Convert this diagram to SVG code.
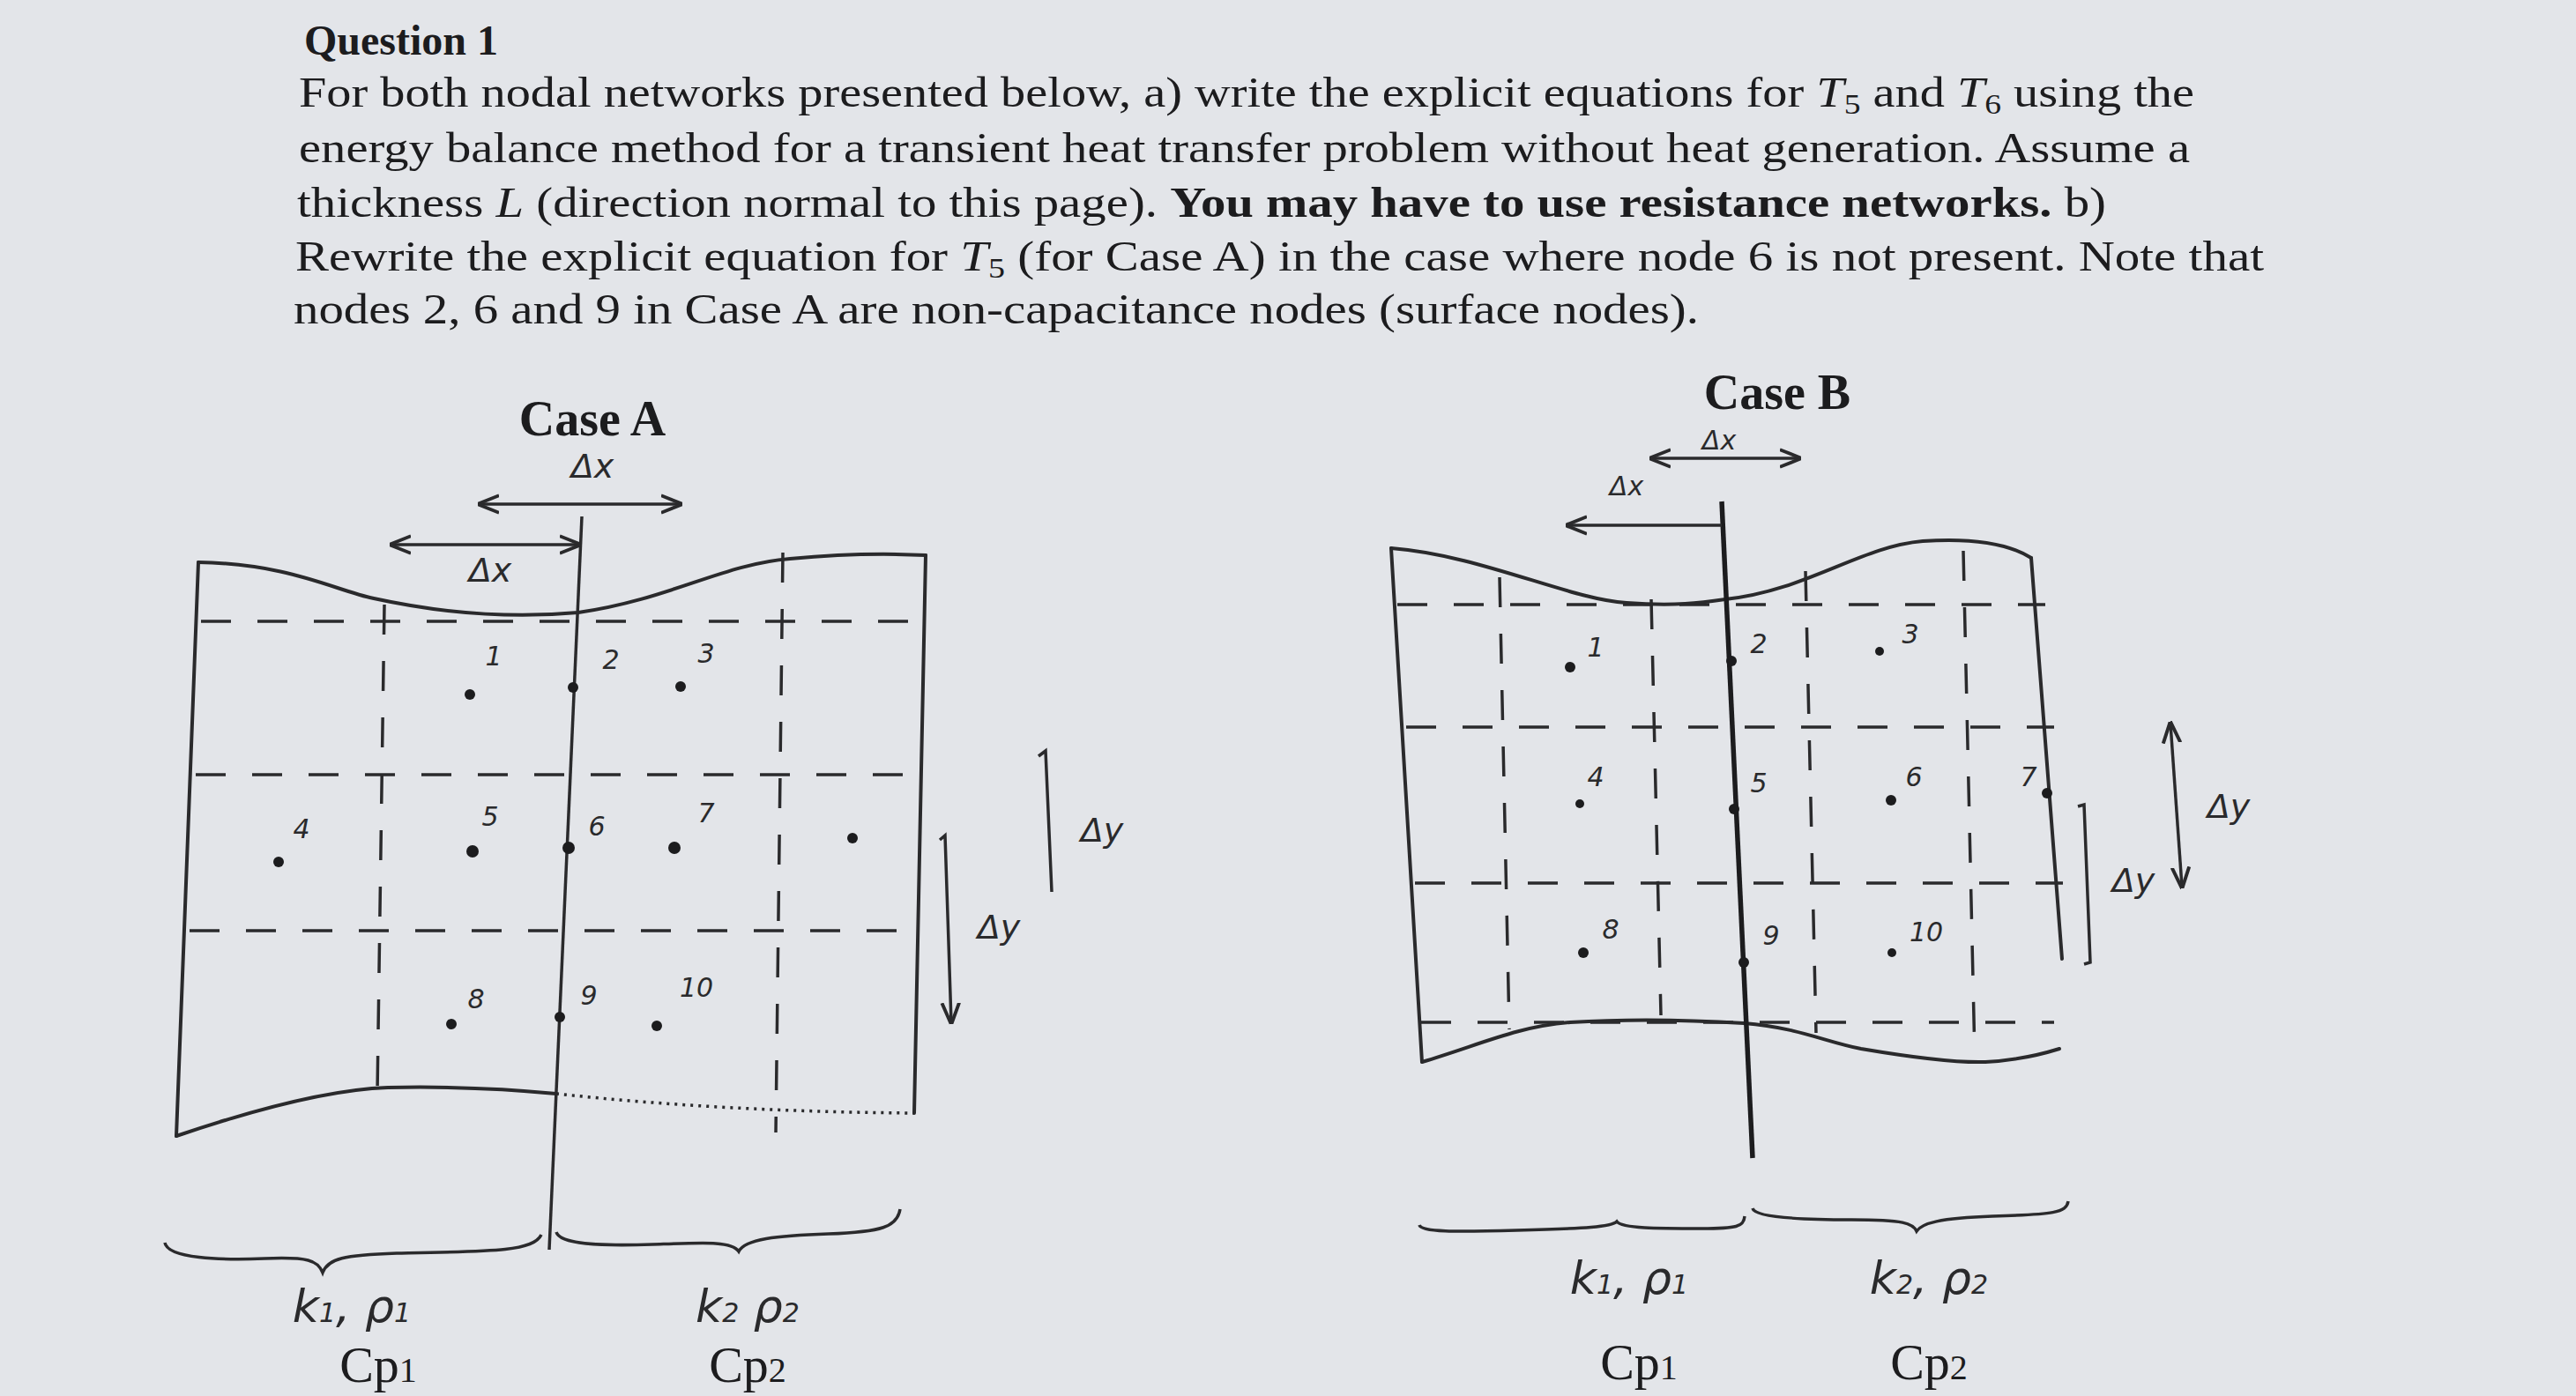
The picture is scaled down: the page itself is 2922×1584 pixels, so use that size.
<svg xmlns="http://www.w3.org/2000/svg" width="2922" height="1584" viewBox="0 0 2922 1584">
<style>
.q{font-family:"Liberation Serif",serif;font-size:48px;fill:#1c1c1e}
.h{font-family:"Liberation Serif",serif;font-size:56px;font-weight:bold;fill:#1c1c1e;text-anchor:middle}
.hw{font-family:"DejaVu Sans",sans-serif;font-style:italic;fill:#2a2a2c;text-anchor:middle}
.n{font-size:30px}
.d{font-size:38px}
.p{font-size:52px}
.cp{font-family:"Liberation Serif",serif;font-size:58px;fill:#1c1c1e;text-anchor:middle}
.s{fill:none;stroke:#2a2a2c;stroke-width:4;stroke-linecap:round}
.t{fill:none;stroke:#2a2a2c;stroke-width:3.5}
.ds{fill:none;stroke:#2a2a2c;stroke-width:3.5;stroke-dasharray:34 30}
.dot{fill:#1c1c1e}
</style>
<defs>
<marker id="ar" viewBox="0 0 10 10" refX="9" refY="5" markerWidth="7" markerHeight="7" orient="auto-start-reverse"><path d="M0,1 L10,5 L0,9" fill="none" stroke="#2a2a2c" stroke-width="1.6"/></marker>
</defs>
<rect width="2922" height="1584" fill="#e3e5e9"/>
<g id="question">
<text class="q" x="345" y="62" font-weight="bold" font-size="50">Question 1</text>
<text class="q" x="339" y="121" textLength="2150" lengthAdjust="spacingAndGlyphs">For both nodal networks presented below, a) write the explicit equations for <tspan font-style="italic">T</tspan><tspan font-size="32" dy="8">5</tspan><tspan dy="-8"> and </tspan><tspan font-style="italic">T</tspan><tspan font-size="32" dy="8">6</tspan><tspan dy="-8"> using the</tspan></text>
<text class="q" x="339" y="184" textLength="2145" lengthAdjust="spacingAndGlyphs">energy balance method for a transient heat transfer problem without heat generation. Assume a</text>
<text class="q" x="337" y="246" textLength="2052" lengthAdjust="spacingAndGlyphs">thickness <tspan font-style="italic">L</tspan> (direction normal to this page). <tspan font-weight="bold">You may have to use resistance networks.</tspan> b)</text>
<text class="q" x="335" y="307" textLength="2233" lengthAdjust="spacingAndGlyphs">Rewrite the explicit equation for <tspan font-style="italic">T</tspan><tspan font-size="32" dy="8">5</tspan><tspan dy="-8"> (for Case A) in the case where node 6 is not present. Note that</tspan></text>
<text class="q" x="333" y="367" textLength="1594" lengthAdjust="spacingAndGlyphs">nodes 2, 6 and 9 in Case A are non-capacitance nodes (surface nodes).</text>
</g>
<g id="caseA">
<text class="h" x="672" y="494">Case A</text>
<path class="s" d="M225,638 C330,640 380,670 424,679 C520,700 600,700 656,695 C760,680 820,640 896,634 C960,628 1010,628 1050,630"/>
<path class="s" d="M225,638 L200,1289"/>
<path class="s" d="M1050,630 L1037,1263"/>
<path class="s" d="M200,1289 C300,1255 380,1236 440,1234 C530,1232 600,1238 631,1241"/>
<path class="t" stroke-dasharray="3 6" d="M631,1241 C760,1255 900,1262 1037,1263"/>
<path class="t" d="M660,586 L623,1418"/>
<path class="ds" d="M228,705 L1050,705"/>
<path class="ds" d="M222,879 L1045,879"/>
<path class="ds" d="M215,1056 L1040,1056"/>
<path class="ds" d="M436,686 L428,1241"/>
<path class="ds" d="M888,627 L880,1285"/>
<path class="t" d="M544,572 L772,572" marker-start="url(#ar)" marker-end="url(#ar)"/>
<path class="t" d="M444,618 L657,618" marker-start="url(#ar)" marker-end="url(#ar)"/>
<text class="hw d" x="672" y="542">Δx</text>
<text class="hw d" x="556" y="660">Δx</text>
<path class="t" d="M1178,858 L1186,852 L1193,1012"/>
<text class="hw d" x="1250" y="955">Δy</text>
<path class="t" d="M1066,953 L1072,948 L1079,1160" marker-end="url(#ar)"/>
<text class="hw d" x="1133" y="1065">Δy</text>
<circle class="dot" cx="533" cy="788" r="6"/><text class="hw n" x="560" y="755">1</text>
<circle class="dot" cx="650" cy="780" r="6"/><text class="hw n" x="693" y="759">2</text>
<circle class="dot" cx="772" cy="779" r="6"/><text class="hw n" x="801" y="752">3</text>
<circle class="dot" cx="316" cy="978" r="6"/><text class="hw n" x="342" y="951">4</text>
<circle class="dot" cx="536" cy="966" r="7"/><text class="hw n" x="556" y="937">5</text>
<circle class="dot" cx="645" cy="962" r="7"/><text class="hw n" x="677" y="948">6</text>
<circle class="dot" cx="765" cy="962" r="7"/><text class="hw n" x="801" y="933">7</text>
<circle class="dot" cx="967" cy="951" r="6"/>
<circle class="dot" cx="512" cy="1162" r="6"/><text class="hw n" x="540" y="1144">8</text>
<circle class="dot" cx="635" cy="1154" r="6"/><text class="hw n" x="668" y="1140">9</text>
<circle class="dot" cx="745" cy="1164" r="6"/><text class="hw n" x="790" y="1131">10</text>
<path class="t" d="M187,1410 C190,1428 250,1430 300,1428 C350,1426 360,1430 366,1444 C372,1428 390,1424 450,1422 C560,1420 605,1420 614,1401"/>
<path class="t" d="M631,1398 C635,1412 680,1414 740,1412 C800,1410 830,1408 838,1420 C845,1406 880,1402 940,1400 C1000,1398 1018,1392 1021,1372"/>
<text class="hw p" x="399" y="1500">k<tspan font-size="30">1</tspan>, ρ<tspan font-size="30">1</tspan></text>
<text class="cp" x="429" y="1568">Cp<tspan font-size="40">1</tspan></text>
<text class="hw p" x="848" y="1500">k<tspan font-size="30">2</tspan> ρ<tspan font-size="30">2</tspan></text>
<text class="cp" x="848" y="1568">Cp<tspan font-size="40">2</tspan></text>
</g>
<g id="caseB">
<text class="h" x="2016" y="464">Case B</text>
<path class="s" d="M1578,622 C1680,630 1780,680 1845,684 C1900,688 1930,684 1957,680 C2050,670 2110,620 2181,614 C2240,610 2280,618 2304,633"/>
<path class="s" d="M1578,622 L1613,1205"/>
<path class="s" d="M2304,633 L2339,1088"/>
<path class="s" d="M1613,1205 C1680,1185 1720,1165 1781,1160 C1860,1155 1930,1158 1978,1161 C2040,1166 2070,1182 2111,1190 C2170,1200 2220,1206 2252,1205 C2290,1203 2320,1195 2336,1190"/>
<path d="M1953,569 L1988,1314" fill="none" stroke="#1c1c1e" stroke-width="5.5"/>
<path class="ds" d="M1585,686 L2320,686"/>
<path class="ds" d="M1595,825 L2330,825"/>
<path class="ds" d="M1605,1002 L2340,1002"/>
<path class="ds" d="M1612,1160 L2330,1160"/>
<path class="ds" d="M1701,655 L1712,1168"/>
<path class="ds" d="M1873,680 L1884,1152"/>
<path class="ds" d="M2048,648 L2060,1172"/>
<path class="ds" d="M2227,625 L2240,1200"/>
<path class="t" d="M1873,520 L2041,520" marker-start="url(#ar)" marker-end="url(#ar)"/>
<path class="t" d="M1778,596 L1953,596" marker-start="url(#ar)"/>
<text class="hw n" x="1950" y="510">Δx</text>
<text class="hw n" x="1845" y="562">Δx</text>
<path class="t" d="M2462,821 L2475,1006" marker-start="url(#ar)" marker-end="url(#ar)"/>
<text class="hw d" x="2528" y="928">Δy</text>
<path class="t" d="M2357,915 L2364,913 L2371,1092 L2364,1094"/>
<text class="hw d" x="2420" y="1012">Δy</text>
<circle class="dot" cx="1781" cy="757" r="6"/><text class="hw n" x="1810" y="745">1</text>
<circle class="dot" cx="1964" cy="750" r="6"/><text class="hw n" x="1995" y="741">2</text>
<circle class="dot" cx="2132" cy="739" r="5"/><text class="hw n" x="2167" y="730">3</text>
<circle class="dot" cx="1792" cy="912" r="5"/><text class="hw n" x="1810" y="892">4</text>
<circle class="dot" cx="1967" cy="918" r="6"/><text class="hw n" x="1995" y="899">5</text>
<circle class="dot" cx="2145" cy="908" r="6"/><text class="hw n" x="2171" y="892">6</text>
<circle class="dot" cx="2322" cy="900" r="6"/><text class="hw n" x="2301" y="892">7</text>
<circle class="dot" cx="1796" cy="1081" r="6"/><text class="hw n" x="1827" y="1065">8</text>
<circle class="dot" cx="1978" cy="1092" r="6"/><text class="hw n" x="2009" y="1072">9</text>
<circle class="dot" cx="2146" cy="1081" r="5"/><text class="hw n" x="2185" y="1068">10</text>
<path class="t" d="M1610,1390 C1612,1398 1650,1398 1720,1396 C1800,1394 1828,1392 1834,1386 C1840,1394 1880,1394 1930,1394 C1970,1394 1978,1392 1979,1380"/>
<path class="t" d="M1988,1371 C1990,1380 2030,1384 2100,1384 C2160,1384 2170,1388 2174,1397 C2180,1388 2200,1382 2260,1380 C2330,1378 2344,1376 2346,1363"/>
<text class="hw p" x="1848" y="1468">k<tspan font-size="30">1</tspan>, ρ<tspan font-size="30">1</tspan></text>
<text class="cp" x="1859" y="1565">Cp<tspan font-size="40">1</tspan></text>
<text class="hw p" x="2188" y="1468">k<tspan font-size="30">2</tspan>, ρ<tspan font-size="30">2</tspan></text>
<text class="cp" x="2188" y="1565">Cp<tspan font-size="40">2</tspan></text>
</g>
</svg>
